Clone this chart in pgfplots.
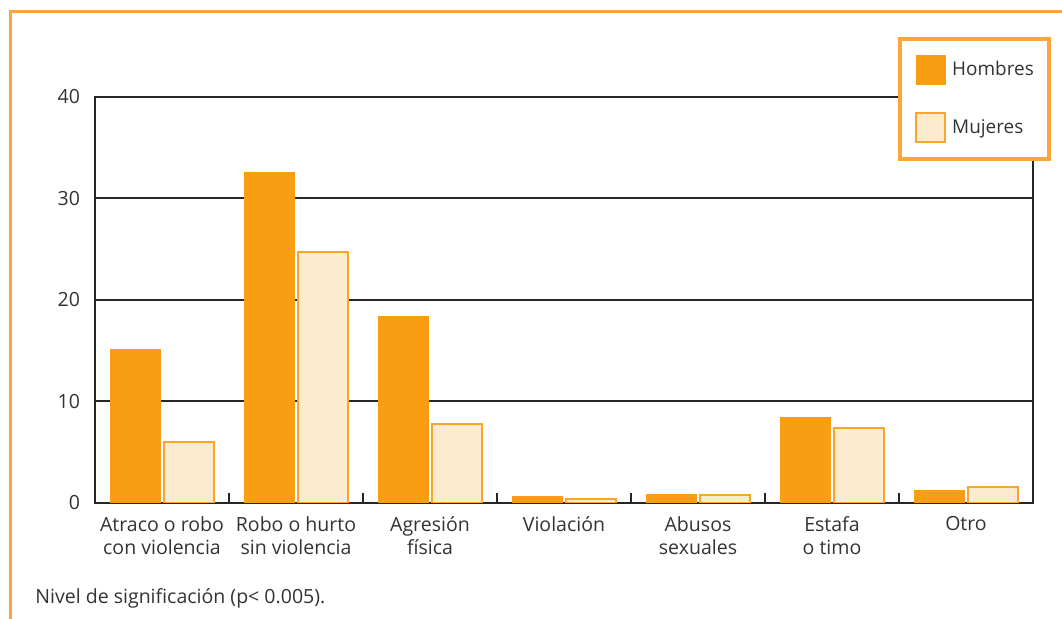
\documentclass[border=0pt]{standalone}
\usepackage{fontspec}
\setmainfont{Open Sans}
\usepackage{pgfplots}
\pgfplotsset{compat=1.18}
\definecolor{hom}{HTML}{F99D12}
\definecolor{mujf}{HTML}{FDEBD0}
\definecolor{mujd}{HTML}{F9A52E}
\definecolor{framec}{HTML}{FBA53C}
\definecolor{txt}{HTML}{333333}
\pgfplotstableread{
x h m
0 15.1 6.0
1 32.6 24.7
2 18.4 7.8
3 0.6 0.35
4 0.8 0.8
5 8.4 7.4
6 1.2 1.6
}\datatab
\begin{document}
\begin{tikzpicture}
\path[use as bounding box] (0bp,0bp) rectangle (531bp,309.5bp);
\begin{scope}
\clip (0bp,0bp) rectangle (531bp,309.5bp);
\draw[framec, line width=1.8bp] (5.2bp,-20bp) |- (560bp,303.8bp);
\end{scope}
\begin{axis}[
  at={(47.5bp,58bp)}, anchor=south west,
  scale only axis, width=469bp, height=203bp,
  xmin=-0.5, xmax=6.5, ymin=0, ymax=40,
  ytick={0,10,20,30,40},
  xtick={0,...,6},
  xticklabels={Atraco o robo\\con violencia, Robo o hurto\\sin violencia, Agresión\\física, Violación, Abusos\\sexuales, Estafa\\o timo, Otro},
  minor xtick={0.5,1.5,...,5.5},
  xtick pos=bottom, ytick pos=left,
  major tick length=0pt, minor tick length=5bp,
  tick align=inside,
  tick style={black!85, line width=1bp},
  ymajorgrids, major grid style={black!85, line width=1bp},
  axis line style={black!85, line width=1bp},
  /pgf/number format/assume math mode=true,
  ticklabel style={font=\fontsize{9.8}{11.5}\selectfont, text=txt},
  xticklabel style={align=center, anchor=north, yshift=-3.2bp},
  yticklabel style={xshift=-4bp},
  legend style={at={(1.019,1.148)}, anchor=north east, draw=framec, line width=2bp,
    fill=white, inner xsep=7.5bp, inner ysep=8bp, row sep=13.5bp, column sep=3bp,
    nodes={inner sep=0pt, font=\fontsize{9.5}{11.5}\selectfont, text=txt}},
  legend cell align=left,
  legend image code/.code={\draw[#1] (0bp,-7.25bp) rectangle (14.5bp,7.25bp);},
]
\addplot[ybar, bar width=0.37, bar shift=-0.2, fill=hom, draw=hom, line width=0.6bp] table[x=x,y=h]{\datatab};
\addlegendentry{Hombres}
\addplot[ybar, bar width=0.37, bar shift=0.2, fill=mujf, draw=mujd, line width=1bp] table[x=x,y=m]{\datatab};
\addlegendentry{Mujeres}
\end{axis}
\node[anchor=base west, inner sep=0pt, font=\fontsize{9.8}{11.5}\selectfont, text=txt] at (17.5bp,8bp) {Nivel de significación (p< 0.005).};
\end{tikzpicture}
\end{document}
